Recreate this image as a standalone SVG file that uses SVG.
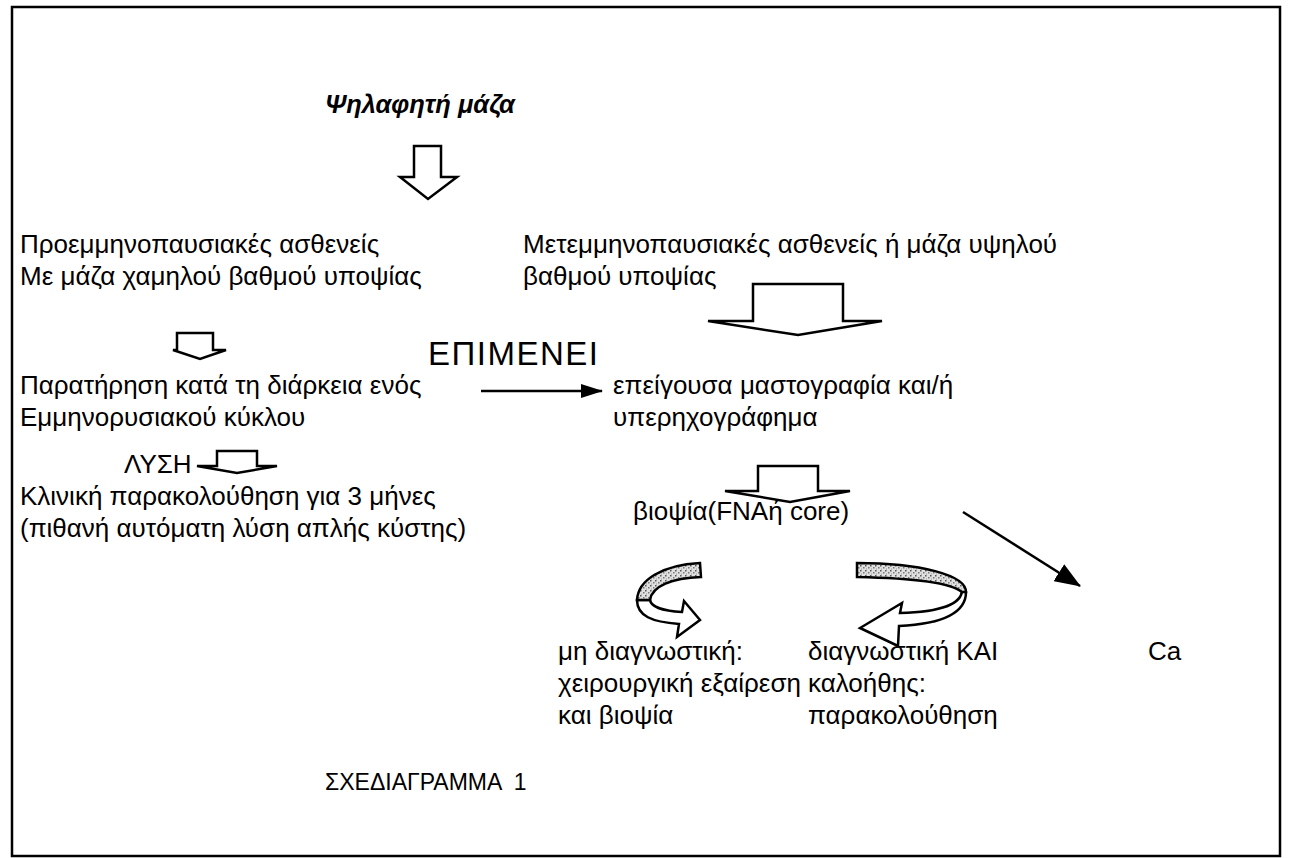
<svg xmlns="http://www.w3.org/2000/svg" width="1292" height="858" viewBox="0 0 1292 858">
<style>
text{font-family:"Liberation Sans",Arial,sans-serif;font-size:26px;fill:#000}
.t{font-weight:bold;font-style:italic;font-size:25.5px}
.big{font-size:33px;letter-spacing:1.5px}
.cap{font-size:23px}
.blk{fill:#fff;stroke:#000;stroke-width:2.5;stroke-linejoin:miter}
.ln{stroke:#000;stroke-width:2.5;fill:none}
.band{fill:url(#tex);stroke:#000;stroke-width:2.5}
</style>
<defs>
<pattern id="tex" width="5" height="5" patternUnits="userSpaceOnUse">
<rect width="5" height="5" fill="#e0e0e0"/>
<rect x="0" y="0" width="1.5" height="1.5" fill="#555"/>
<rect x="3" y="2" width="1.5" height="1.5" fill="#777"/>
<rect x="1" y="3.5" width="1" height="1" fill="#999"/>
</pattern>
<marker id="ah" markerWidth="26" markerHeight="20" refX="25" refY="10" orient="auto" markerUnits="userSpaceOnUse" viewBox="0 0 26 20">
<path d="M0,0 L26,10 L0,20 Z" fill="#000"/>
</marker>
<marker id="ah2" markerWidth="22" markerHeight="14" refX="21" refY="7" orient="auto" markerUnits="userSpaceOnUse" viewBox="0 0 22 14">
<path d="M0,0 L22,7 L0,14 Z" fill="#000"/>
</marker>
</defs>
<rect x="12" y="7" width="1268" height="849" fill="#fff" stroke="#000" stroke-width="2.5"/>

<g id="n_title"><text class="t" x="325" y="113">Ψηλαφητή μάζα</text></g>
<g id="n_pre"><text x="20" y="253">Προεμμηνοπαυσιακές ασθενείς</text><text x="20" y="285">Με μάζα χαμηλού βαθμού υποψίας</text></g>
<g id="n_post"><text x="523" y="253">Μετεμμηνοπαυσιακές ασθενείς ή μάζα υψηλού</text><text x="523" y="285">βαθμού υποψίας</text></g>
<g id="n_epimenei"><text class="big" x="428" y="365">ΕΠΙΜΕΝΕΙ</text></g>
<g id="n_obs"><text x="20" y="394">Παρατήρηση κατά τη διάρκεια ενός</text><text x="20" y="426">Εμμηνορυσιακού κύκλου</text></g>
<g id="n_mammo"><text x="613" y="394">επείγουσα μαστογραφία και/ή</text><text x="613" y="426">υπερηχογράφημα</text></g>
<g id="n_lysi"><text x="124" y="473">ΛΥΣΗ</text></g>
<g id="n_clin"><text x="20" y="505">Κλινική παρακολούθηση για 3 μήνες</text><text x="20" y="537">(πιθανή αυτόματη λύση απλής κύστης)</text></g>
<g id="n_biopsy"><text x="633" y="520">βιοψία(FNAή core)</text></g>
<g id="n_nondiag"><text x="558" y="660">μη διαγνωστική:</text><text x="558" y="692">χειρουργική εξαίρεση</text><text x="558" y="724">και βιοψία</text></g>
<g id="n_diag"><text x="808" y="660">διαγνωστική ΚΑΙ</text><text x="808" y="692">καλοήθης:</text><text x="808" y="724">παρακολούθηση</text></g>
<g id="n_ca"><text x="1148" y="660">Ca</text></g>
<g id="n_caption"><text class="cap" x="325" y="790" xml:space="preserve">ΣΧΕΔΙΑΓΡΑΜΜΑ  1</text></g>

<g id="connectors">
<path class="blk" d="M414,146 L441,146 L441,177 L457,177 L428,199 L400,177 L414,177 Z"/>
<path class="blk" d="M177,333 L213,333 L213,350 L226,350 L200,359 L173,350 L177,350 Z"/>
<path class="blk" d="M217,451 L257,451 L257,466 L277,466 L237,473 L197,466 L217,466 Z"/>
<path class="blk" d="M753,284 L843,284 L843,321 L882,321 L798,335 L708,321 L753,321 Z"/>
<path class="blk" d="M758,466 L818,466 L818,491 L850,491 L790,502 L725,491 L758,491 Z"/>
<line class="ln" x1="481" y1="391" x2="602" y2="391" marker-end="url(#ah2)"/>
<line class="ln" x1="963" y1="512" x2="1080" y2="586" marker-end="url(#ah)"/>
<path class="blk" d="M637,600 C637,616 652,622 679,624 L677,637 L700,620 L684,601 L682,612 C664,611 651,607 650,600 Z"/>
<path class="band" d="M700,563 L701,577 C672,578 652,586 650,600 L637,600 C638,580 662,565 700,563 Z"/>
<path class="blk" d="M962,590 C962,604 940,612 900,613 L902,603 L860,628 L898,646 L899,626 C940,624 966,614 966,592 Z"/>
<path class="band" d="M857,563 L857,577 C905,578 950,582 962,592 L966,592 C966,575 920,563 857,563 Z"/>
</g>
</svg>
